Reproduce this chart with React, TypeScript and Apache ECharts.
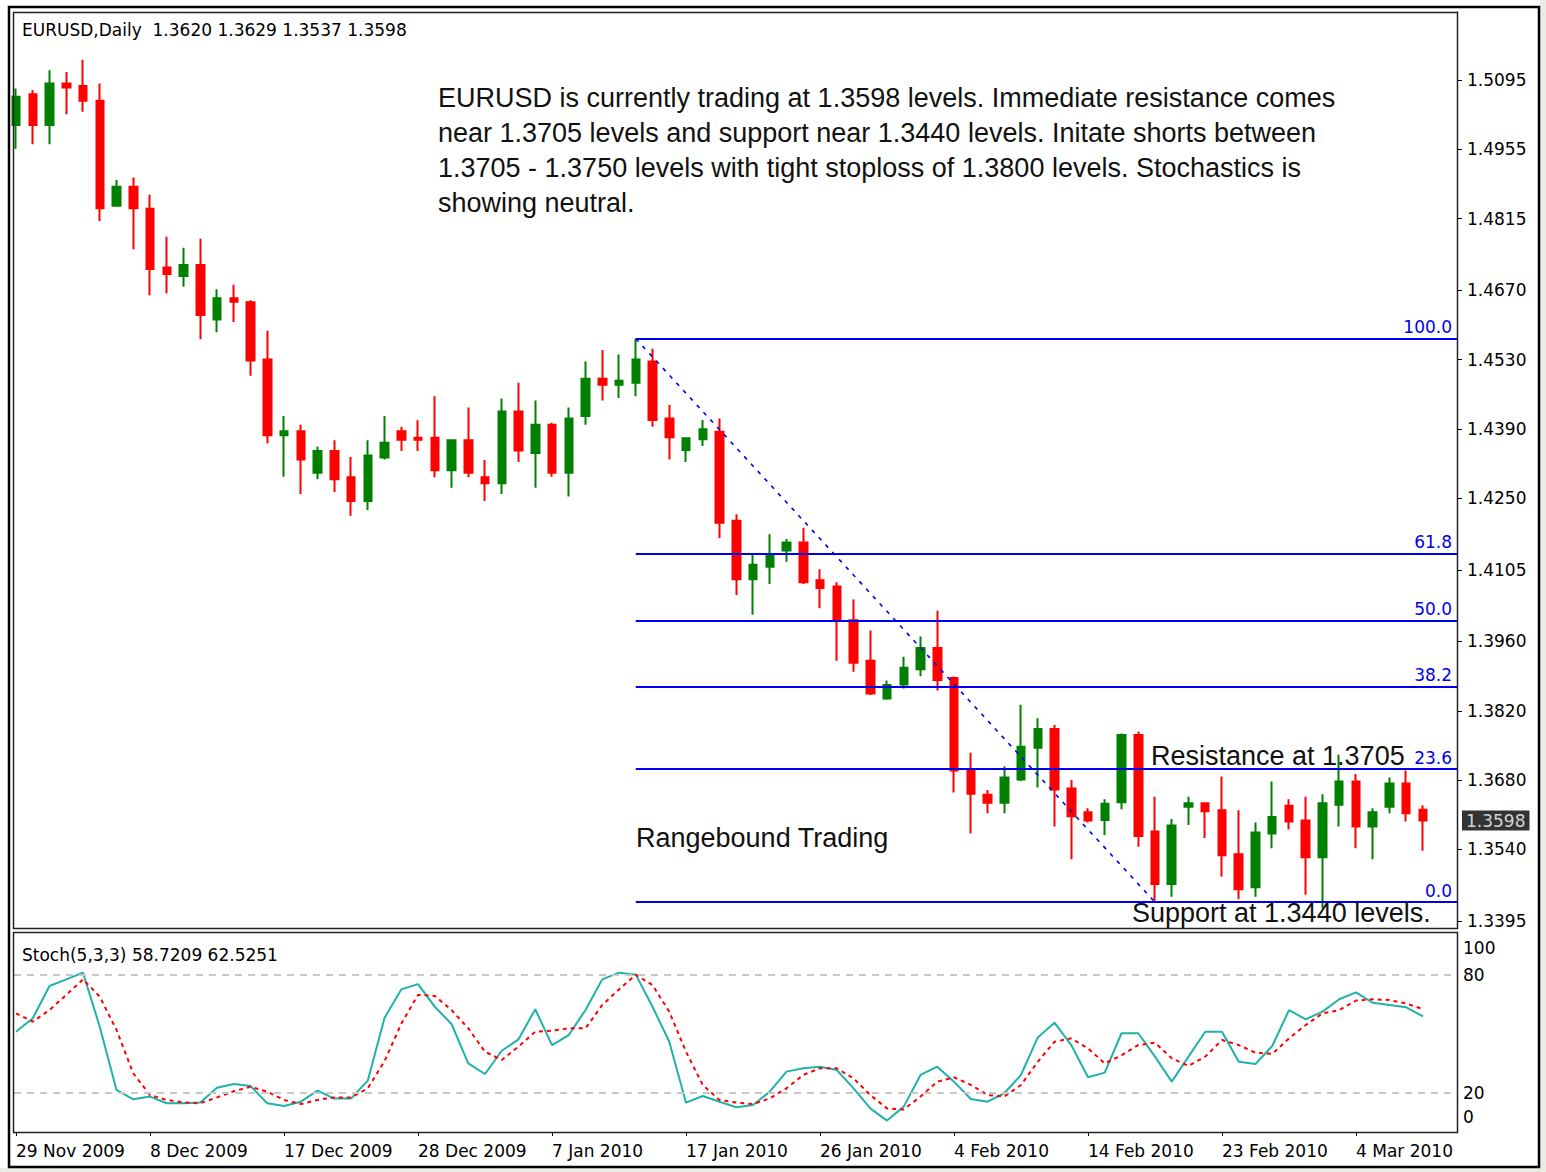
import { useEffect, useRef } from "react";
import * as echarts from "echarts";

// ---------- DATA ----------
const dates = [
  "29 Nov 2009", "30 Nov 2009", "1 Dec 2009", "2 Dec 2009", "3 Dec 2009", "4 Dec 2009", "6 Dec 2009", "7 Dec 2009",
  "8 Dec 2009", "9 Dec 2009", "10 Dec 2009", "11 Dec 2009", "13 Dec 2009", "14 Dec 2009", "15 Dec 2009", "16 Dec 2009",
  "17 Dec 2009", "18 Dec 2009", "20 Dec 2009", "21 Dec 2009", "22 Dec 2009", "23 Dec 2009", "24 Dec 2009", "27 Dec 2009",
  "28 Dec 2009", "29 Dec 2009", "30 Dec 2009", "31 Dec 2009", "3 Jan 2010", "4 Jan 2010", "5 Jan 2010", "6 Jan 2010",
  "7 Jan 2010", "8 Jan 2010", "10 Jan 2010", "11 Jan 2010", "12 Jan 2010", "13 Jan 2010", "14 Jan 2010", "15 Jan 2010",
  "17 Jan 2010", "18 Jan 2010", "19 Jan 2010", "20 Jan 2010", "21 Jan 2010", "22 Jan 2010", "24 Jan 2010", "25 Jan 2010",
  "26 Jan 2010", "27 Jan 2010", "28 Jan 2010", "29 Jan 2010", "31 Jan 2010", "1 Feb 2010", "2 Feb 2010", "3 Feb 2010",
  "4 Feb 2010", "5 Feb 2010", "7 Feb 2010", "8 Feb 2010", "9 Feb 2010", "10 Feb 2010", "11 Feb 2010", "12 Feb 2010",
  "14 Feb 2010", "15 Feb 2010", "16 Feb 2010", "17 Feb 2010", "18 Feb 2010", "19 Feb 2010", "21 Feb 2010", "22 Feb 2010",
  "23 Feb 2010", "24 Feb 2010", "25 Feb 2010", "26 Feb 2010", "28 Feb 2010", "1 Mar 2010", "2 Mar 2010", "3 Mar 2010",
  "4 Mar 2010", "5 Mar 2010", "7 Mar 2010", "8 Mar 2010", "9 Mar 2010",
];

const opens = [
  1.5004, 1.5066, 1.5004, 1.5088, 1.5083, 1.5053, 1.4841, 1.4879, 1.4835, 1.4716,
  1.4699, 1.4721, 1.4611, 1.4654, 1.4646, 1.4530, 1.4377, 1.4385, 1.4301, 1.4345,
  1.4292, 1.4244, 1.4332, 1.4385, 1.4372, 1.4372, 1.4306, 1.4367, 1.4292, 1.4280,
  1.4425, 1.4341, 1.4398, 1.4301, 1.4416, 1.4491, 1.4479, 1.4483, 1.4526, 1.4411,
  1.4347, 1.4369, 1.4384, 1.4204, 1.4086, 1.4111, 1.4144, 1.4160, 1.4084, 1.4071,
  1.4003, 1.3921, 1.3845, 1.3873, 1.3904, 1.3947, 1.3886, 1.3702, 1.3650, 1.3634,
  1.3681, 1.3745, 1.3783, 1.3663, 1.3615, 1.3599, 1.3635, 1.3771, 1.3576, 1.3470,
  1.3626, 1.3633, 1.3619, 1.3530, 1.3463, 1.3572, 1.3628, 1.3598, 1.3524, 1.3630,
  1.3677, 1.3586, 1.3626, 1.3673, 1.3620,
];

const closes = [
  1.5061, 1.5004, 1.5088, 1.5080, 1.5053, 1.4836, 1.4879, 1.4836, 1.4713, 1.4703,
  1.4721, 1.4620, 1.4654, 1.4647, 1.4528, 1.4377, 1.4385, 1.4328, 1.4345, 1.4288,
  1.4244, 1.4336, 1.4362, 1.4368, 1.4368, 1.4306, 1.4367, 1.4301, 1.4280, 1.4425,
  1.4346, 1.4398, 1.4301, 1.4411, 1.4491, 1.4479, 1.4487, 1.4530, 1.4408, 1.4373,
  1.4371, 1.4389, 1.4200, 1.4086, 1.4115, 1.4133, 1.4160, 1.4080, 1.4068, 1.4002,
  1.3917, 1.3855, 1.3872, 1.3907, 1.3947, 1.3882, 1.3699, 1.3652, 1.3634, 1.3685,
  1.3747, 1.3783, 1.3661, 1.3607, 1.3598, 1.3632, 1.3771, 1.3567, 1.3470, 1.3588,
  1.3633, 1.3617, 1.3528, 1.3459, 1.3574, 1.3605, 1.3596, 1.3524, 1.3633, 1.3677,
  1.3586, 1.3615, 1.3673, 1.3613, 1.3598,
];

const lows = [
  1.4956, 1.4965, 1.4965, 1.5026, 1.5031, 1.4810, 1.4839, 1.4753, 1.4660, 1.4664,
  1.4677, 1.4571, 1.4585, 1.4606, 1.4497, 1.4360, 1.4293, 1.4258, 1.4288, 1.4262,
  1.4214, 1.4226, 1.4328, 1.4345, 1.4345, 1.4292, 1.4271, 1.4292, 1.4244, 1.4258,
  1.4323, 1.4271, 1.4293, 1.4253, 1.4398, 1.4447, 1.4452, 1.4456, 1.4394, 1.4328,
  1.4323, 1.4355, 1.4169, 1.4054, 1.4014, 1.4076, 1.4121, 1.4076, 1.4027, 1.3921,
  1.3899, 1.3852, 1.3842, 1.3865, 1.3890, 1.3861, 1.3655, 1.3572, 1.3613, 1.3613,
  1.3678, 1.3665, 1.3586, 1.3520, 1.3594, 1.3569, 1.3621, 1.3545, 1.3433, 1.3444,
  1.3589, 1.3563, 1.3485, 1.3439, 1.3444, 1.3542, 1.3580, 1.3448, 1.3421, 1.3586,
  1.3542, 1.3520, 1.3613, 1.3596, 1.3537,
];

const highs = [
  1.5078, 1.5075, 1.5115, 1.5111, 1.5136, 1.5088, 1.4893, 1.4898, 1.4863, 1.4778,
  1.4756, 1.4774, 1.4672, 1.4681, 1.4650, 1.4588, 1.4416, 1.4398, 1.4354, 1.4367,
  1.4333, 1.4367, 1.4416, 1.4394, 1.4407, 1.4456, 1.4368, 1.4433, 1.4327, 1.4451,
  1.4483, 1.4447, 1.4402, 1.4433, 1.4526, 1.4549, 1.4540, 1.4572, 1.4552, 1.4438,
  1.4372, 1.4408, 1.4411, 1.4217, 1.4136, 1.4177, 1.4167, 1.4190, 1.4106, 1.4080,
  1.4045, 1.3982, 1.3881, 1.3929, 1.3970, 1.4022, 1.3889, 1.3735, 1.3660, 1.3708,
  1.3832, 1.3805, 1.3791, 1.3680, 1.3623, 1.3641, 1.3774, 1.3778, 1.3646, 1.3601,
  1.3646, 1.3634, 1.3687, 1.3619, 1.3594, 1.3677, 1.3641, 1.3646, 1.3651, 1.3731,
  1.3692, 1.3623, 1.3685, 1.3699, 1.3629,
];

// Stochastic(5,3,3): %K main line and %D signal line
const kValues = [
  51.0, 57.8, 74.2, 77.6, 81.0, 53.5, 21.4, 16.6, 18.0, 14.6,
  14.6, 15.0, 22.5, 24.4, 23.4, 14.6, 13.2, 15.4, 21.0, 17.0,
  17.0, 26.1, 58.0, 72.5, 75.2, 63.7, 54.9, 34.9, 29.5, 41.3,
  47.1, 62.4, 44.2, 49.3, 62.0, 77.6, 81.0, 80.0, 63.7, 45.9,
  14.9, 18.3, 15.4, 12.6, 13.7, 20.5, 30.7, 32.4, 33.2, 31.5,
  22.2, 12.0, 5.8, 12.9, 29.0, 33.2, 25.6, 16.8, 15.4, 19.7,
  29.0, 48.1, 55.6, 44.2, 27.8, 30.2, 50.2, 50.2, 38.3, 25.6,
  38.3, 51.0, 51.0, 35.7, 34.6, 43.7, 62.0, 57.3, 61.2, 67.5,
  71.0, 65.7, 64.6, 63.4, 58.7209,
];

const dValues = [
  60.3, 56.1, 62.0, 69.7, 77.6, 68.8, 51.9, 29.8, 18.8, 16.3,
  15.0, 14.6, 17.6, 20.7, 23.0, 20.5, 16.3, 14.2, 16.3, 17.6,
  17.6, 22.2, 36.0, 55.0, 69.7, 69.2, 62.0, 52.7, 40.8, 36.6,
  43.4, 51.0, 51.5, 52.7, 52.7, 64.6, 72.5, 80.0, 74.7, 61.2,
  40.8, 23.9, 16.3, 15.0, 14.2, 17.1, 22.2, 29.0, 32.4, 32.4,
  27.3, 18.8, 12.0, 11.5, 18.0, 25.6, 27.8, 24.0, 18.8, 18.0,
  23.9, 35.7, 45.9, 47.6, 42.5, 34.9, 39.0, 44.2, 45.4, 37.5,
  33.6, 38.3, 46.8, 44.2, 40.3, 39.7, 47.6, 54.4, 60.3, 62.0,
  66.8, 67.5, 67.1, 65.3, 62.5251,
];

const priceTicks = [1.5095, 1.4955, 1.4815, 1.467, 1.453, 1.439, 1.425, 1.4105, 1.396, 1.382, 1.368, 1.354, 1.3395];
const stochTicks = [0, 20, 80, 100];
const stochLevels = [80, 20];
const dateTickIndex = [0, 8, 16, 24, 32, 40, 48, 56, 64, 72, 80];

// Fibonacci retracement drawn from the high of bar 37 to the low of bar 68
const fibHighIndex = 37;
const fibLowIndex = 68;
const fibRatios = [1, 0.618, 0.5, 0.382, 0.236, 0];
const fibLabels = ["100.0", "61.8", "50.0", "38.2", "23.6", "0.0"];

const commentLines = [
  "EURUSD is currently trading at 1.3598 levels. Immediate resistance comes",
  "near 1.3705 levels and support near 1.3440 levels. Initate shorts between",
  "1.3705 - 1.3750 levels with tight stoploss of 1.3800 levels. Stochastics is",
  "showing neutral.",
];

// ---------- LAYOUT ----------
const SMALL_FONT = "'DejaVu Sans', Verdana, sans-serif";
const BIG_FONT = "'Liberation Sans', Arial, sans-serif";
const X_MIN = -0.12;
const X_MAX = 86.03;
const Y_MIN = 1.338085;
const Y_MAX = 1.52325;
const STOCH_MAX = 101.17;

export default function App() {
  const ref = useRef<HTMLDivElement>(null);

  useEffect(() => {
    if (!ref.current) return;
    const chart = echarts.init(ref.current, null, { renderer: "svg" });
    const last = dates.length - 1;

    const candleData = dates.map((_, i) => [i, opens[i], closes[i], lows[i], highs[i]]);
    const kData = kValues.map((v, i) => [i, v]);
    const dData = dValues.map((v, i) => [i, v]);

    const fibHigh = highs[fibHighIndex];
    const fibLow = lows[fibLowIndex];
    const fibLines: any[] = fibRatios.map((r, k) => {
      const level = fibLow + r * (fibHigh - fibLow);
      return [
        {
          coord: [fibHighIndex, level],
          lineStyle: { color: "#0000ee", width: 2, type: "solid" },
          label: {
            show: true,
            position: "insideEndTop",
            formatter: fibLabels[k],
            color: "#0000ee",
            fontSize: 17,
            fontFamily: SMALL_FONT,
            distance: [5, 3],
          },
        },
        { coord: [X_MAX, level] },
      ];
    });
    fibLines.push([
      {
        coord: [fibHighIndex, fibHigh],
        lineStyle: { color: "#0000ee", width: 1.6, type: [4, 6] },
        label: { show: false },
      },
      { coord: [fibLowIndex, fibLow] },
    ]);

    const header = `EURUSD,Daily  ${[opens[last], highs[last], lows[last], closes[last]]
      .map((v) => v.toFixed(4))
      .join(" ")}`;
    const stochHeader = `Stoch(5,3,3) ${kValues[last].toFixed(4)} ${dValues[last].toFixed(4)}`;

    const txt = (text: string, x: number, y: number, size: number, family: string, fill = "#000") => ({
      type: "text",
      x,
      y,
      z: 100,
      silent: true,
      style: {
        text,
        fill,
        fontSize: size,
        fontFamily: family,
        verticalAlign: "middle",
        textVerticalAlign: "middle",
        align: "left",
        textAlign: "left",
      },
    });

    const option: any = {
      animation: false,
      backgroundColor: "#fff",
      grid: [
        { left: 14, top: 12, width: 1443, height: 916 },
        { left: 14, top: 933, width: 1443, height: 199 },
      ],
      xAxis: [
        {
          type: "value",
          gridIndex: 0,
          min: X_MIN,
          max: X_MAX,
          axisLine: { show: false, onZero: false },
          axisTick: { show: false },
          axisLabel: { show: false },
          splitLine: { show: false },
        },
        {
          type: "value",
          gridIndex: 1,
          min: X_MIN,
          max: X_MAX,
          axisLine: { show: false, onZero: false },
          axisTick: {
            show: true,
            customValues: dateTickIndex,
            length: 4,
            lineStyle: { color: "#000", width: 1 },
          },
          axisLabel: {
            show: true,
            customValues: dateTickIndex,
            formatter: (v: number) => dates[Math.round(v)] ?? "",
            align: "left",
            margin: 10,
            fontSize: 17,
            fontFamily: SMALL_FONT,
            color: "#000",
          },
          splitLine: { show: false },
        },
      ],
      yAxis: [
        {
          type: "value",
          gridIndex: 0,
          position: "right",
          min: Y_MIN,
          max: Y_MAX,
          axisLine: { show: true, onZero: false, lineStyle: { color: "#000", width: 1 } },
          axisTick: { show: true, customValues: priceTicks, length: 5, lineStyle: { color: "#000" } },
          axisLabel: {
            show: true,
            customValues: priceTicks,
            formatter: (v: number) => v.toFixed(4),
            margin: 10,
            fontSize: 17,
            fontFamily: SMALL_FONT,
            color: "#000",
          },
          splitLine: { show: false },
        },
        {
          type: "value",
          gridIndex: 1,
          position: "right",
          min: 0,
          max: STOCH_MAX,
          axisLine: { show: true, onZero: false, lineStyle: { color: "#000", width: 1 } },
          axisTick: { show: false },
          axisLabel: {
            show: true,
            customValues: stochTicks,
            margin: 6,
            fontSize: 17,
            fontFamily: SMALL_FONT,
            color: "#000",
            formatter: (v: number) => (v === 100 ? "{t|100}" : v === 0 ? "{b|0}" : `${v}`),
            rich: {
              t: { fontSize: 17, fontFamily: SMALL_FONT, color: "#000", padding: [25, 0, 0, 0] },
              b: { fontSize: 17, fontFamily: SMALL_FONT, color: "#000", padding: [0, 0, 30, 0] },
            },
          },
          splitLine: { show: false },
        },
      ],
      series: [
        {
          type: "candlestick",
          name: "EURUSD",
          xAxisIndex: 0,
          yAxisIndex: 0,
          data: candleData,
          barWidth: 8,
          clip: true,
          itemStyle: {
            color: "#008000",
            color0: "#ff0000",
            borderColor: "#008000",
            borderColor0: "#ff0000",
            borderWidth: 2,
          },
          emphasis: { disabled: true },
          markLine: {
            silent: true,
            symbol: ["none", "none"],
            label: { show: false },
            emphasis: { disabled: true },
            data: fibLines,
          },
        },
        {
          // current bid price tag on the price scale
          type: "scatter",
          name: "Bid",
          xAxisIndex: 0,
          yAxisIndex: 0,
          data: [[X_MAX, closes[last]]],
          symbolSize: 0,
          clip: false,
          silent: true,
          z: 10,
          label: {
            show: true,
            position: "right",
            distance: 5,
            formatter: () => closes[last].toFixed(4),
            backgroundColor: "#000",
            color: "#fff",
            padding: [2, 4, 1, 4],
            fontSize: 17,
            fontFamily: SMALL_FONT,
          },
        },
        {
          type: "line",
          name: "%K",
          xAxisIndex: 1,
          yAxisIndex: 1,
          data: kData,
          symbol: "none",
          z: 3,
          lineStyle: { color: "#20b2aa", width: 2 },
          emphasis: { disabled: true },
          markLine: {
            silent: true,
            symbol: ["none", "none"],
            label: { show: false },
            lineStyle: { color: "#c8c8c8", width: 2, type: [7, 6] },
            emphasis: { disabled: true },
            data: stochLevels.map((v) => ({ yAxis: v })),
          },
        },
        {
          type: "line",
          name: "%D",
          xAxisIndex: 1,
          yAxisIndex: 1,
          data: dData,
          symbol: "none",
          z: 4,
          lineStyle: { color: "#ff0000", width: 2, type: [4, 4] },
          emphasis: { disabled: true },
        },
      ],
      graphic: [
        { type: "rect", silent: true, z: 0, shape: { x: 1540, y: 0, width: 6, height: 1172 }, style: { fill: "#ecebe4" } },
        { type: "rect", silent: true, z: 0, shape: { x: 0, y: 1168, width: 1546, height: 4 }, style: { fill: "#ecebe4" } },
        {
          type: "rect",
          silent: true,
          z: 100,
          shape: { x: 9, y: 7, width: 1530, height: 1160 },
          style: { fill: "none", stroke: "#000", lineWidth: 2.5 },
        },
        {
          type: "rect",
          silent: true,
          z: 100,
          shape: { x: 13.5, y: 12.5, width: 1444, height: 916 },
          style: { fill: "none", stroke: "#222", lineWidth: 1.5 },
        },
        {
          type: "rect",
          silent: true,
          z: 100,
          shape: { x: 13.5, y: 932.5, width: 1444, height: 200 },
          style: { fill: "none", stroke: "#222", lineWidth: 1.5 },
        },
        txt(header, 22, 30, 17, SMALL_FONT),
        txt(stochHeader, 22, 955, 17, SMALL_FONT),
        ...commentLines.map((line, i) => txt(line, 438, 98 + i * 35, 27, BIG_FONT, "#111")),
        txt("Rangebound Trading", 636, 838, 27, BIG_FONT, "#111"),
        txt("Resistance at 1.3705", 1151, 756, 27, BIG_FONT, "#111"),
        txt("Support at 1.3440 levels.", 1132, 913, 27, BIG_FONT, "#111"),
      ],
    };

    chart.setOption(option);
    return () => chart.dispose();
  }, []);

  return (
    <div
      ref={ref}
      style={{ position: "absolute", left: 0, top: 0, width: 1546, height: 1172, background: "#fff" }}
    />
  );
}
